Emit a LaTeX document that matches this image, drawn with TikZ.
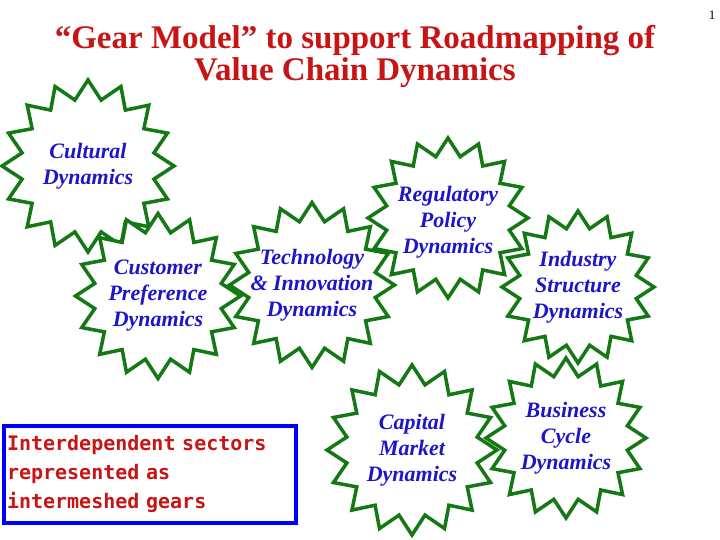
\documentclass[tikz,border=0pt]{standalone}
\usepackage{fontspec}
\setmainfont{Liberation Serif}
\newfontfamily\boxfont{DejaVu Sans Mono}
\usetikzlibrary{shapes.geometric}
\definecolor{gearg}{RGB}{20,120,20}
\definecolor{txtb}{RGB}{30,20,200}
\definecolor{titr}{RGB}{200,20,20}
\tikzset{gear/.style={star,star points=16,star point ratio=1.28,draw=gearg,line width=3.5pt,fill=white,minimum size=#1,inner sep=0pt},
 gtxt/.style={text=txtb,font=\fontsize{22}{26}\selectfont\bfseries\itshape,align=center}}
\begin{document}
\begin{tikzpicture}[x=1pt,y=-1pt]
\useasboundingbox (0,0) rectangle (720,540);
\node[text=titr,font=\fontsize{33}{32}\selectfont\bfseries,align=center] (title) at (355,56) {“Gear Model” to support Roadmapping of\\Value Chain Dynamics};
\node[font=\fontsize{13}{13}\selectfont] (pg) at (712,15) {1};
\node[gear=172pt] (cul) at (88,166) {};
\node[gear=165pt] (cus) at (158,296) {};
\node[gear=165pt] (tec) at (312,285) {};
\node[gear=160pt] (reg) at (448,218) {};
\node[gear=152pt] (ind) at (578,287) {};
\node[gear=170pt] (cap) at (412,450) {};
\node[gear=160pt] (bus) at (566,438) {};
\node[gtxt] at (cul) {Cultural\\Dynamics};
\node[gtxt] at (cus) {Customer\\Preference\\Dynamics};
\node[gtxt] at (tec) {Technology\\\& Innovation\\Dynamics};
\node[gtxt] at (448,222) {Regulatory\\Policy\\Dynamics};
\node[gtxt] at (ind) {Industry\\Structure\\Dynamics};
\node[gtxt] at (cap) {Capital\\Market\\Dynamics};
\node[gtxt] at (bus) {Business\\Cycle\\Dynamics};
\node[draw=blue,line width=4pt,minimum width=292pt,minimum height=97pt,inner sep=2pt,text=titr,align=left,text width=286pt,font=\fontsize{20}{29}\selectfont\bfseries\boxfont] (box) at (150,474) {Interdependent sectors\\represented as\\intermeshed gears};
\end{tikzpicture}
\end{document}
